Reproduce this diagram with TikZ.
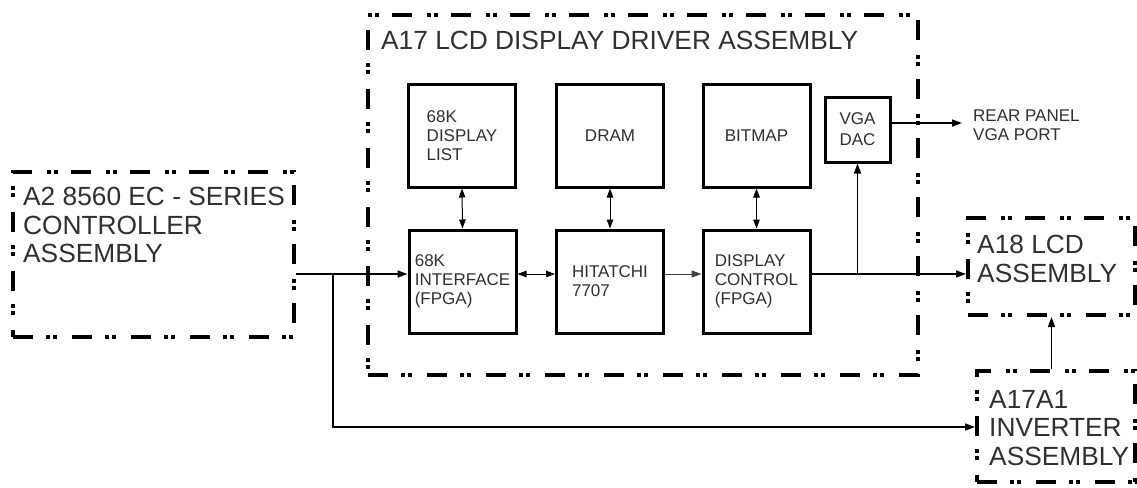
\documentclass[tikz,border=0pt]{standalone}
\usepackage{fontspec}
\setmainfont{Liberation Sans}
\usetikzlibrary{arrows.meta}
\definecolor{txt}{HTML}{303030}
\begin{document}
\begin{tikzpicture}[x=1pt,y=-1pt,
  ddot/.style={draw=black, line width=4pt, dash pattern=on 20pt off 13pt on 4pt off 3pt on 4pt off 15pt, rectangle, inner sep=0pt},
  blk/.style={draw=black, line width=3pt, rectangle, inner sep=0pt, minimum width=107pt, minimum height=103pt, align=left, font=\fontsize{17}{19}\selectfont, text=txt},
  big/.style={inner sep=0pt, anchor=north west, align=left, font=\fontsize{26.3}{28.5}\selectfont, text=txt},
  conn/.style={draw=black, line width=1.5pt},
  arr/.style={conn, -{Triangle[length=10pt,width=7pt]}},
  thinarr/.style={draw=black!75, line width=1pt, -{Triangle[length=10pt,width=7pt]}},
  dbl/.style={draw=black, line width=1pt, {Triangle[length=9pt,width=6.5pt]}-{Triangle[length=9pt,width=6.5pt]}},
]
\fill[white] (0,0) rectangle (1137,487);
\useasboundingbox (0,0) rectangle (1137,487);

% dashed assemblies
\node[ddot, minimum width=281pt, minimum height=165pt] (a2) at (153.5,254.5) {};
\node[ddot, minimum width=550pt, minimum height=360pt] (a17) at (643,195) {};
\node[ddot, minimum width=167pt, minimum height=97pt] (a18) at (1051.5,266.5) {};
\node[ddot, minimum width=158pt, minimum height=111pt] (a17a1) at (1056,426.5) {};

% assembly titles
\node[big] (t2) at (23,187) {A2 8560 EC - SERIES\\CONTROLLER\\ASSEMBLY};
\node[big] (t17) at (381,31) {A17 LCD DISPLAY DRIVER ASSEMBLY};
\node[big] (t18) at (977,235) {A18 LCD\\ASSEMBLY};
\node[big] (t17a1) at (989,390) {A17A1\\INVERTER\\ASSEMBLY};

% inner blocks
\node[blk] (dl) at (462,135.5) {68K\\DISPLAY\\LIST};
\node[blk] (dram) at (610,135.5) {DRAM};
\node[blk] (bmp) at (756.5,135.5) {BITMAP};
\node[blk, minimum width=65pt, minimum height=65pt, align=center, font=\fontsize{17}{21}\selectfont] (vga) at (857.5,129.5) {VGA\\DAC};
\node[blk] (intf) at (462.5,281.5) {68K\\INTERFACE\\(FPGA)};
\node[blk] (hit) at (610,281.5) {HITATCHI\\7707};
\node[blk] (disp) at (756.5,281.5) {DISPLAY\\CONTROL\\(FPGA)};

\node[inner sep=0pt, anchor=north west, align=left, font=\fontsize{17}{19}\selectfont, text=txt] (rear) at (973,110) {REAR PANEL\\VGA PORT};

% connectors
\coordinate (j1) at (333,274);
\coordinate (j3) at (333,427);
\draw[arr] (a2.east |- j1) -- (intf.west |- j1);
\draw[arr] (j1) -- (j3) -- (a17a1.west |- j3);
\draw[dbl] (intf.east |- j1) -- (hit.west |- j1);
\draw[thinarr] (hit.east |- j1) -- (disp.west |- j1);
\draw[arr] (disp.east |- j1) -- (a18.west |- j1);
\draw[arr] (vga.south |- j1) -- (vga.south);
\draw[arr] ([yshift=2.6pt]vga.east |- rear.west) -- ([xshift=-11pt,yshift=2.6pt]rear.west);
\draw[dbl] (dl.south) -- (intf.north);
\draw[dbl] (dram.south) -- (hit.north);
\draw[dbl] (bmp.south) -- (disp.north);
\draw[arr] (a18.south |- a17a1.north) -- (a18.south);
\end{tikzpicture}
\end{document}
